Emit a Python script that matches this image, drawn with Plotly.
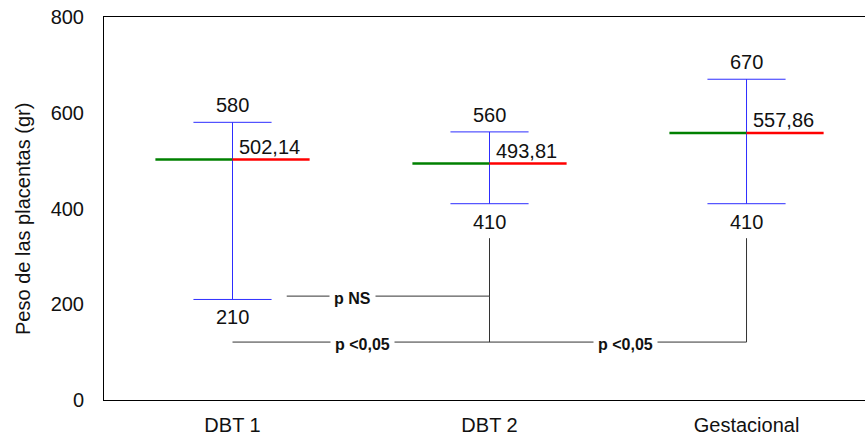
import plotly.graph_objects as go

# ---- data ----
categories = ["DBT 1", "DBT 2", "Gestacional"]
max_vals = [580, 560, 670]
min_vals = [210, 410, 410]
mean_vals = [502.14, 493.81, 557.86]
y_ticks = [0, 200, 400, 600, 800]

# comparison brackets (levels on the y scale)
bracket_top = 338
ns_level = 217
sig_level = 121
comparisons = ["p NS", "p <0,05", "p <0,05"]

FONT = "Liberation Sans, Arial, sans-serif"
BLUE = "rgb(45,45,255)"
GREEN = "rgb(0,128,0)"
RED = "rgb(255,0,0)"
DARK = "#333333"

cap_hw = 0.152
mean_hw = 0.30

fig = go.Figure()

for i, cat in enumerate(categories):
    # whisker
    fig.add_trace(go.Scatter(x=[i, i], y=[min_vals[i], max_vals[i]], mode="lines",
                             line=dict(color=BLUE, width=1), hoverinfo="skip"))
    for v in (min_vals[i], max_vals[i]):
        fig.add_trace(go.Scatter(x=[i - cap_hw, i + cap_hw], y=[v, v], mode="lines",
                                 line=dict(color=BLUE, width=1), hoverinfo="skip"))
    # mean line: green left, red right
    fig.add_trace(go.Scatter(x=[i - mean_hw, i], y=[mean_vals[i]] * 2, mode="lines",
                             line=dict(color=GREEN, width=2.5), hoverinfo="skip"))
    fig.add_trace(go.Scatter(x=[i, i + mean_hw], y=[mean_vals[i]] * 2, mode="lines",
                             line=dict(color=RED, width=2.5), hoverinfo="skip"))

# brackets
fig.add_trace(go.Scatter(x=[0.211, 1, 1], y=[ns_level, ns_level, bracket_top], mode="lines",
                         line=dict(color=DARK, width=1), hoverinfo="skip"))
fig.add_trace(go.Scatter(x=[1, 1], y=[ns_level, sig_level], mode="lines",
                         line=dict(color=DARK, width=1), hoverinfo="skip"))
fig.add_trace(go.Scatter(x=[0, 2, 2], y=[sig_level, sig_level, bracket_top], mode="lines",
                         line=dict(color=DARK, width=1), hoverinfo="skip"))

annotations = []
for i in range(len(categories)):
    annotations.append(dict(x=i, y=max_vals[i], text=str(max_vals[i]), showarrow=False,
                            xanchor="center", yanchor="bottom", yshift=4,
                            font=dict(family=FONT, size=20, color="#111")))
    annotations.append(dict(x=i, y=min_vals[i], text=str(min_vals[i]), showarrow=False,
                            xanchor="center", yanchor="top", yshift=-5,
                            font=dict(family=FONT, size=20, color="#111")))
    annotations.append(dict(x=i, y=mean_vals[i], text=f"{mean_vals[i]:.2f}".replace(".", ","),
                            showarrow=False, xanchor="left", yanchor="bottom", xshift=4, yshift=0,
                            font=dict(family=FONT, size=20, color="#111")))

comp_pos = [(0.468, ns_level), (0.507, sig_level), (1.528, sig_level)]
for txt, (cx, cy) in zip(comparisons, comp_pos):
    annotations.append(dict(x=cx, y=cy, text=f"<b>{txt}</b>", showarrow=False,
                            xanchor="center", yanchor="middle", bgcolor="white", borderpad=4,
                            yshift=-2,
                            font=dict(family=FONT, size=16, color="#111")))

annotations.append(dict(xref="paper", yref="paper", x=0, y=0.4726, xshift=-81,
                        text="Peso de las placentas (gr)", textangle=-90, showarrow=False,
                        xanchor="center", yanchor="middle",
                        font=dict(family=FONT, size=20, color="#111")))

fig.update_layout(
    width=865, height=439,
    margin=dict(l=104, r=0, t=17, b=39),
    paper_bgcolor="white", plot_bgcolor="white",
    showlegend=False,
    annotations=annotations,
    xaxis=dict(range=[-0.5, 2.461], tickvals=list(range(len(categories))), ticktext=categories,
               showgrid=False, zeroline=False, showline=True, linecolor="black", linewidth=1,
               mirror=True, ticks="outside", ticklen=7, tickcolor="rgba(0,0,0,0)",
               tickfont=dict(family=FONT, size=20, color="#111"), automargin=False),
    yaxis=dict(range=[0, 800], tickvals=y_ticks, showgrid=False, zeroline=False,
               showline=True, linecolor="black", linewidth=1,
               ticks="outside", ticklen=15, tickcolor="rgba(0,0,0,0)",
               tickfont=dict(family=FONT, size=20, color="#111"), automargin=False),
)

fig.write_html("out.html")
